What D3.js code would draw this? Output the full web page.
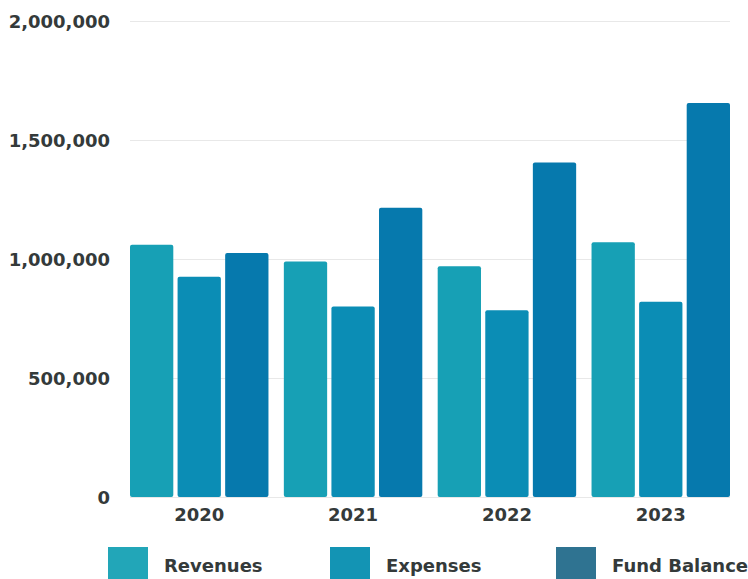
<!DOCTYPE html>
<html>
<head>
<meta charset="utf-8">
<script src="https://cdn.jsdelivr.net/npm/d3@7"></script>
<style>
  html, body { margin: 0; padding: 0; background: #ffffff; }
  svg { display: block; }
  text { font-family: "DejaVu Sans", sans-serif; font-weight: bold; fill: #343a3a; }
</style>
</head>
<body>
<svg id="chart" width="748" height="579"></svg>
<script>
const years = ["2020", "2021", "2022", "2023"];
const seriesNames = ["Revenues", "Expenses", "Fund Balance"];
const revenues = [1060000, 990000, 970000, 1070000];
const expenses = [925000, 800000, 785000, 820000];
const fundBalance = [1025000, 1215000, 1405000, 1655000];
const yTicks = [0, 500000, 1000000, 1500000, 2000000];

const barColors = ["#17a0b5", "#0b8db5", "#0679ad"];
const legendColors = ["#22a6b8", "#1394b4", "#2f7391"];

const seriesValues = [revenues, expenses, fundBalance];
const rows = years.map((yr, i) => ({
  year: yr,
  values: seriesNames.map((s, j) => ({ key: s, value: seriesValues[j][i], idx: j }))
}));

const svg = d3.select("#chart");
const plotLeft = 130, plotRight = 730, plotTop = 21, plotBottom = 497;

const yScale = d3.scaleLinear().domain([0, 2000000]).range([plotBottom, plotTop]);
const x0 = d3.scaleBand().domain(years).range([plotLeft, plotRight]).paddingInner(0.1).paddingOuter(0);
const x1 = d3.scaleBand().domain(seriesNames).range([0, x0.bandwidth()]).paddingInner(0.09).paddingOuter(0);

// gridlines
svg.append("g").selectAll("line").data(yTicks).join("line")
  .attr("x1", plotLeft).attr("x2", plotRight)
  .attr("y1", d => yScale(d) + 0.5).attr("y2", d => yScale(d) + 0.5)
  .attr("stroke", "#e8e8e8").attr("stroke-width", 1);

// y axis labels
const yAxis = d3.axisLeft(yScale).tickValues(yTicks).tickFormat(d3.format(",")).tickSize(0).tickPadding(0);
const yg = svg.append("g").attr("transform", "translate(110,0)").call(yAxis);
yg.select(".domain").remove();
yg.selectAll("text").attr("font-size", 18).attr("dy", "0.36em")
  .style("font-family", "DejaVu Sans").style("font-weight", "bold").attr("fill", "#343a3a");

// bars
const groups = svg.append("g").selectAll("g").data(rows).join("g")
  .attr("transform", d => `translate(${x0(d.year)},0)`);
groups.selectAll("rect").data(d => d.values).join("rect")
  .attr("x", d => x1(d.key))
  .attr("width", x1.bandwidth())
  .attr("y", d => yScale(d.value))
  .attr("height", d => yScale(0) - yScale(d.value))
  .attr("rx", 2).attr("ry", 2)
  .attr("fill", d => barColors[d.idx]);

// x axis labels
const xAxis = d3.axisBottom(x0).tickSize(0).tickPadding(0);
const xg = svg.append("g").attr("transform", `translate(0,${plotBottom})`).call(xAxis);
xg.select(".domain").remove();
xg.selectAll("text").attr("font-size", 18).attr("y", 24).attr("dy", 0)
  .style("font-family", "DejaVu Sans").style("font-weight", "bold").attr("fill", "#343a3a");

// legend
const legendX = [108, 330, 556];
const lg = svg.append("g").selectAll("g").data(seriesNames).join("g")
  .attr("transform", (d, i) => `translate(${legendX[i]},547)`);
lg.append("rect").attr("width", 40).attr("height", 40).attr("fill", (d, i) => legendColors[i]);
lg.append("text").attr("x", 56).attr("y", 25).attr("font-size", 18).text(d => d);
</script>
</body>
</html>
